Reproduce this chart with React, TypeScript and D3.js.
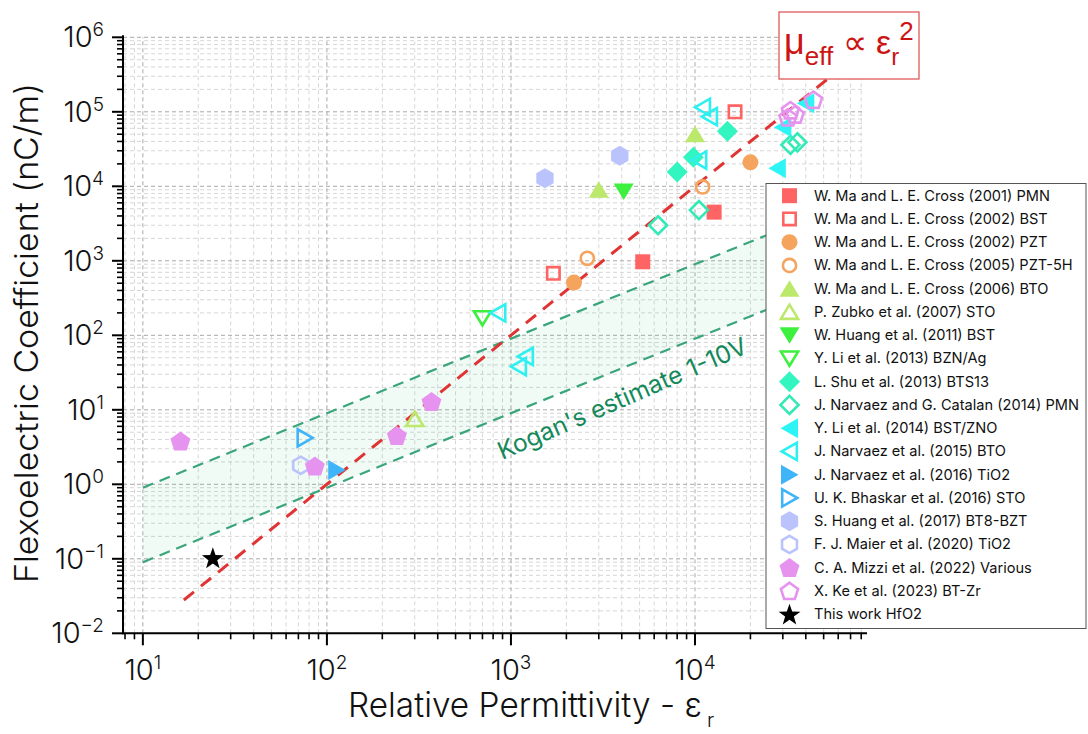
import React from 'react';
import * as d3 from 'd3';

// ---------- data ----------
const xMajorTicks = [10, 100, 1000, 10000];
const xMajorExps = ['1', '2', '3', '4'];
const yMajorTicks = [1e-2, 1e-1, 1e0, 1e1, 1e2, 1e3, 1e4, 1e5, 1e6];
const yMajorExps = ['\u22122', '\u22121', '0', '1', '2', '3', '4', '5', '6'];

const seriesLabels = [
  'W. Ma and L. E. Cross (2001) PMN',
  'W. Ma and L. E. Cross (2002) BST',
  'W. Ma and L. E. Cross (2002) PZT',
  'W. Ma and L. E. Cross (2005) PZT-5H',
  'W. Ma and L. E. Cross (2006) BTO',
  'P. Zubko et al. (2007) STO',
  'W. Huang et al. (2011) BST',
  'Y. Li et al.  (2013) BZN/Ag',
  'L. Shu et al. (2013) BTS13',
  'J. Narvaez and G. Catalan (2014) PMN',
  'Y. Li et al. (2014) BST/ZNO',
  'J. Narvaez et al. (2015) BTO',
  'J. Narvaez et al. (2016) TiO2',
  'U. K. Bhaskar et al. (2016) STO',
  'S. Huang et al. (2017) BT8-BZT',
  'F. J. Maier et al. (2020) TiO2',
  'C. A. Mizzi et al. (2022) Various',
  'X. Ke et al. (2023) BT-Zr',
  'This work HfO2',
];
const seriesColors = [
  '#fe6464', '#fe6464', '#f5a45e', '#f5a45e', '#bce86b', '#bce86b', '#3ef03e', '#3ef03e',
  '#33f5c0', '#33eab6', '#2ef5f5', '#2ef0f0', '#40b4f8', '#40b4f8', '#bac3fb', '#bac3fb',
  '#e693f0', '#e693f0', '#000000',
];
const seriesShapes = [
  'square', 'square', 'circle', 'circle', 'triUp', 'triUp', 'triDown', 'triDown',
  'diamond', 'diamond', 'triLeft', 'triLeft', 'triRight', 'triRight', 'hexagon', 'hexagon',
  'pentagon', 'pentagon', 'star',
];
const seriesFilled = [
  true, false, true, false, true, false, true, false, true, false, true, false, true, false,
  true, false, true, false, true,
];

const maCross2001PMN_eps = [5200, 12700];
const maCross2001PMN_mu = [970, 4500];
const maCross2002BST_eps = [1700, 16500];
const maCross2002BST_mu = [680, 100000];
const maCross2002PZT_eps = [2200, 20000];
const maCross2002PZT_mu = [510, 21000];
const maCross2005PZT5H_eps = [2600, 11000];
const maCross2005PZT5H_mu = [1080, 9800];
const maCross2006BTO_eps = [3000, 10000];
const maCross2006BTO_mu = [9000, 50000];
const zubko2007STO_eps = [300];
const zubko2007STO_mu = [7.5];
const huang2011BST_eps = [4100];
const huang2011BST_mu = [8500];
const li2013BZN_eps = [700];
const li2013BZN_mu = [170];
const shu2013BTS13_eps = [8000, 9800, 15000];
const shu2013BTS13_mu = [15500, 24500, 55000];
const narvaezCatalan2014PMN_eps = [6300, 10500, 33000, 36000];
const narvaezCatalan2014PMN_mu = [3000, 4800, 36000, 39000];
const li2014BSTZNO_eps = [28000, 30000, 40000];
const li2014BSTZNO_mu = [17500, 62000, 130000];
const narvaez2015BTO_eps = [11000, 12000, 10500, 850, 1200, 1100];
const narvaez2015BTO_mu = [115000, 86000, 22500, 200, 52, 38];
const narvaez2016TiO2_eps = [113];
const narvaez2016TiO2_mu = [1.55];
const bhaskar2016STO_eps = [76];
const bhaskar2016STO_mu = [4.2];
const huang2017BT8BZT_eps = [1530, 3900];
const huang2017BT8BZT_mu = [12800, 25800];
const maier2020TiO2_eps = [72];
const maier2020TiO2_mu = [1.8];
const mizzi2022_eps = [16, 86, 240, 370];
const mizzi2022_mu = [3.8, 1.75, 4.5, 12.8];
const ke2023_eps = [33000, 35000, 32000, 44000];
const ke2023_mu = [105000, 92000, 84000, 145000];
const thisWork_eps = [24];
const thisWork_mu = [0.103];

const seriesEps = [
  maCross2001PMN_eps, maCross2002BST_eps, maCross2002PZT_eps, maCross2005PZT5H_eps,
  maCross2006BTO_eps, zubko2007STO_eps, huang2011BST_eps, li2013BZN_eps, shu2013BTS13_eps,
  narvaezCatalan2014PMN_eps, li2014BSTZNO_eps, narvaez2015BTO_eps, narvaez2016TiO2_eps,
  bhaskar2016STO_eps, huang2017BT8BZT_eps, maier2020TiO2_eps, mizzi2022_eps, ke2023_eps,
  thisWork_eps,
];
const seriesMu = [
  maCross2001PMN_mu, maCross2002BST_mu, maCross2002PZT_mu, maCross2005PZT5H_mu,
  maCross2006BTO_mu, zubko2007STO_mu, huang2011BST_mu, li2013BZN_mu, shu2013BTS13_mu,
  narvaezCatalan2014PMN_mu, li2014BSTZNO_mu, narvaez2015BTO_mu, narvaez2016TiO2_mu,
  bhaskar2016STO_mu, huang2017BT8BZT_mu, maier2020TiO2_mu, mizzi2022_mu, ke2023_mu,
  thisWork_mu,
];

// mu_eff ∝ eps^2 guide line endpoints
const squareLawEps = [16.7, 52000];
const squareLawMu = [0.028, 270000];
// Kogan's estimate band (1-10 V)
const koganEps = [10, 30000];
const koganUpper = [0.9, 2700];
const koganLower = [0.09, 270];

// ---------- geometry ----------
const W = 1088;
const H = 734;
const x = d3.scaleLog().domain([7.8, 86000]).range([123, 867]);
const y = d3.scaleLog().domain([1e-2, 1e6]).range([633.3, 37.3]);

const FONT = "Inter, 'Liberation Sans', Arial, sans-serif";

function poly(pts: number[][]) {
  return 'M' + pts.map((p) => p[0].toFixed(2) + ',' + p[1].toFixed(2)).join('L') + 'Z';
}

function markerPath(shape: string, filled: boolean) {
  const k = filled ? 1 : 0.86;
  switch (shape) {
    case 'square': {
      const a = filled ? 7.5 : 6.2;
      return poly([[-a, -a], [a, -a], [a, a], [-a, a]]);
    }
    case 'circle': {
      const r = filled ? 8 : 6.6;
      return `M${r},0A${r},${r} 0 1 1 ${-r},0A${r},${r} 0 1 1 ${r},0Z`;
    }
    case 'triUp':
      return poly([[0, -8.5 * k], [10 * k, 8 * k], [-10 * k, 8 * k]]);
    case 'triDown':
      return poly([[0, 8.5 * k], [10 * k, -8 * k], [-10 * k, -8 * k]]);
    case 'triLeft':
      return poly([[-9 * k, 0], [8.5 * k, -10 * k], [8.5 * k, 10 * k]]);
    case 'triRight':
      return poly([[9 * k, 0], [-8.5 * k, -10 * k], [-8.5 * k, 10 * k]]);
    case 'diamond': {
      const a = 10.5 * k;
      return poly([[0, -a], [a, 0], [0, a], [-a, 0]]);
    }
    case 'hexagon': {
      const r = 10 * k;
      const pts = d3.range(6).map((i) => {
        const t = -Math.PI / 2 + (i * Math.PI) / 3;
        return [r * Math.cos(t), r * Math.sin(t)];
      });
      return poly(pts);
    }
    case 'pentagon': {
      const r = 10.5 * k;
      const pts = d3.range(5).map((i) => {
        const t = -Math.PI / 2 + (i * 2 * Math.PI) / 5;
        return [r * Math.cos(t), r * Math.sin(t) + 0.8];
      });
      return poly(pts);
    }
    case 'star': {
      const R = 11.5;
      const r = 4.6;
      const pts = d3.range(10).map((i) => {
        const t = -Math.PI / 2 + (i * Math.PI) / 5;
        const rr = i % 2 === 0 ? R : r;
        return [rr * Math.cos(t), rr * Math.sin(t) + 1];
      });
      return poly(pts);
    }
  }
  return '';
}

function Marker({ cx, cy, i }: { cx: number; cy: number; i: number }) {
  const filled = seriesFilled[i];
  const c = seriesColors[i];
  return (
    <path
      d={markerPath(seriesShapes[i], filled)}
      transform={`translate(${cx},${cy})`}
      fill={filled ? c : 'none'}
      stroke={filled ? 'none' : c}
      strokeWidth={filled ? 0 : 2.6}
      strokeLinejoin="miter"
    />
  );
}

export default function App() {
  const [x0, x1] = x.range();
  const [yb, yt] = y.range();

  const xMinor: number[] = [];
  for (let e = 0; e <= 4; e++) {
    for (let m = 2; m <= 9; m++) {
      const v = m * Math.pow(10, e);
      if (v >= 7.8 && v <= 86000) xMinor.push(v);
    }
  }
  const yMinor: number[] = [];
  for (let e = -2; e <= 5; e++) {
    for (let m = 2; m <= 9; m++) yMinor.push(m * Math.pow(10, e));
  }

  const line = d3
    .line<number>()
    .x((_, i) => x(squareLawEps[i]))
    .y((d) => y(d));

  const bandArea = d3
    .area<number>()
    .x((_, i) => x(koganEps[i]))
    .y0((_, i) => y(koganLower[i]))
    .y1((d) => y(d));
  const koganLine = d3
    .line<number>()
    .x((_, i) => x(koganEps[i]))
    .y((d) => y(d));

  const legX = 766;
  const legY = 183.5;
  const legW = 320;
  const legH = 445;
  const legRow0 = 195.7;
  const legStep = 23.25;

  return (
    <svg
      width={W}
      height={H}
      viewBox={`0 0 ${W} ${H}`}
      style={{ position: 'absolute', left: 0, top: 0, background: '#fff' }}
      fontFamily={FONT}
    >
      <rect x={0} y={0} width={W} height={H} fill="#fff" />

      {/* grid */}
      <g>
        {xMinor.map((v) => (
          <line key={'gxm' + v} x1={x(v)} x2={x(v)} y1={yb} y2={yt} stroke="#d6d6d6" strokeWidth={1} strokeDasharray="4,3" />
        ))}
        {yMinor.map((v) => (
          <line key={'gym' + v} x1={x0} x2={x1 - 2} y1={y(v)} y2={y(v)} stroke="#d6d6d6" strokeWidth={1} strokeDasharray="4,3" />
        ))}
        {xMajorTicks.map((v) => (
          <line key={'gx' + v} x1={x(v)} x2={x(v)} y1={yb} y2={yt} stroke="#a8a8a8" strokeWidth={1} strokeDasharray="4,3" />
        ))}
        {yMajorTicks.map((v) => (
          <line key={'gy' + v} x1={x0} x2={x1 - 2} y1={y(v)} y2={y(v)} stroke="#a8a8a8" strokeWidth={1} strokeDasharray="4,3" />
        ))}
      </g>

      {/* Kogan band */}
      <path d={bandArea(koganUpper) || ''} fill="#3cc88c" fillOpacity={0.08} />
      <path d={koganLine(koganUpper) || ''} fill="none" stroke="#3aa57a" strokeWidth={2.2} strokeDasharray="11,7" />
      <path d={koganLine(koganLower) || ''} fill="none" stroke="#3aa57a" strokeWidth={2.2} strokeDasharray="11,7" />

      {/* square law line */}
      <path d={line(squareLawMu) || ''} fill="none" stroke="#e03333" strokeWidth={3} strokeDasharray="13,9" />

      {/* points */}
      <g>
        {seriesEps.map((arr, i) =>
          arr.map((e, j) => <Marker key={'p' + i + '_' + j} cx={x(e)} cy={y(seriesMu[i][j])} i={i} />)
        )}
      </g>

      {/* axes */}
      <g stroke="#000" strokeWidth={2}>
        <line x1={x0} x2={x0} y1={yb + 1} y2={yt - 2} />
        <line x1={x0 - 1} x2={x1} y1={yb} y2={yb} />
        {xMajorTicks.map((v) => (
          <line key={'xt' + v} x1={x(v)} x2={x(v)} y1={yb} y2={yb + 12} />
        ))}
        {xMinor.map((v) => (
          <line key={'xtm' + v} x1={x(v)} x2={x(v)} y1={yb} y2={yb + 6} strokeWidth={1.6} />
        ))}
        {yMajorTicks.map((v) => (
          <line key={'yt' + v} x1={x0} x2={x0 - 11} y1={y(v)} y2={y(v)} />
        ))}
        {yMinor.map((v) => (
          <line key={'ytm' + v} x1={x0} x2={x0 - 6} y1={y(v)} y2={y(v)} strokeWidth={1.6} />
        ))}
      </g>

      {/* tick labels */}
      <g fill="#111" fontWeight={300}>
        {xMajorTicks.map((v, i) => (
          <text key={'xl' + v} x={x(v)} y={680} fontSize={29} textAnchor="middle">
            10
            <tspan fontSize={19} dy={-11}>
              {xMajorExps[i]}
            </tspan>
          </text>
        ))}
        {yMajorTicks.map((v, i) => (
          <text key={'yl' + v} x={104} y={y(v) + 10} fontSize={29} textAnchor="end">
            10
            <tspan fontSize={19} dy={-11}>
              {yMajorExps[i]}
            </tspan>
          </text>
        ))}
      </g>

      {/* axis titles */}
      <text
        transform="translate(38,333) rotate(-90)"
        textAnchor="middle"
        fontSize={33}
        fontWeight={300}
        fill="#111"
        textLength={500}
        lengthAdjust="spacingAndGlyphs"
      >
        Flexoelectric Coefficient (nC/m)
      </text>
      <text x={348} y={717} fontSize={34} fontWeight={300} fill="#111" textLength={354} lengthAdjust="spacingAndGlyphs">
        Relative Permittivity - ε
      </text>
      <text x={707} y={727} fontSize={20} fontWeight={300} fill="#111">
        r
      </text>

      {/* Kogan label */}
      <text
        transform="translate(622,398) rotate(-23.5)"
        textAnchor="middle"
        dominantBaseline="central"
        fontSize={24.5}
        fill="#13895a"
      >
        Kogan's estimate 1-10V
      </text>

      {/* annotation */}
      <rect x={779} y={12} width={140} height={67} fill="#fff" stroke="#e05a5a" strokeWidth={1.3} />
      <text x={784} y={54} fill="#cc1414" fontFamily="'Liberation Sans', Arial, sans-serif">
        <tspan fontSize={36}>μ</tspan>
        <tspan fontSize={26} dy={11}>eff</tspan>
        <tspan fontSize={34} dy={-11}> ∝ ε</tspan>
        <tspan fontSize={24} dy={11}>r</tspan>
        <tspan fontSize={26} dy={-25}>2</tspan>
      </text>

      {/* legend */}
      <rect x={legX} y={legY} width={legW} height={legH} fill="#fff" stroke="#555" strokeWidth={1} />
      {seriesLabels.map((lab, i) => (
        <g key={'lg' + i}>
          <Marker cx={789.5} cy={legRow0 + i * legStep} i={i} />
          <text x={814} y={legRow0 + i * legStep} dominantBaseline="central" fontSize={14.6} fill="#111">
            {lab}
          </text>
        </g>
      ))}
    </svg>
  );
}
